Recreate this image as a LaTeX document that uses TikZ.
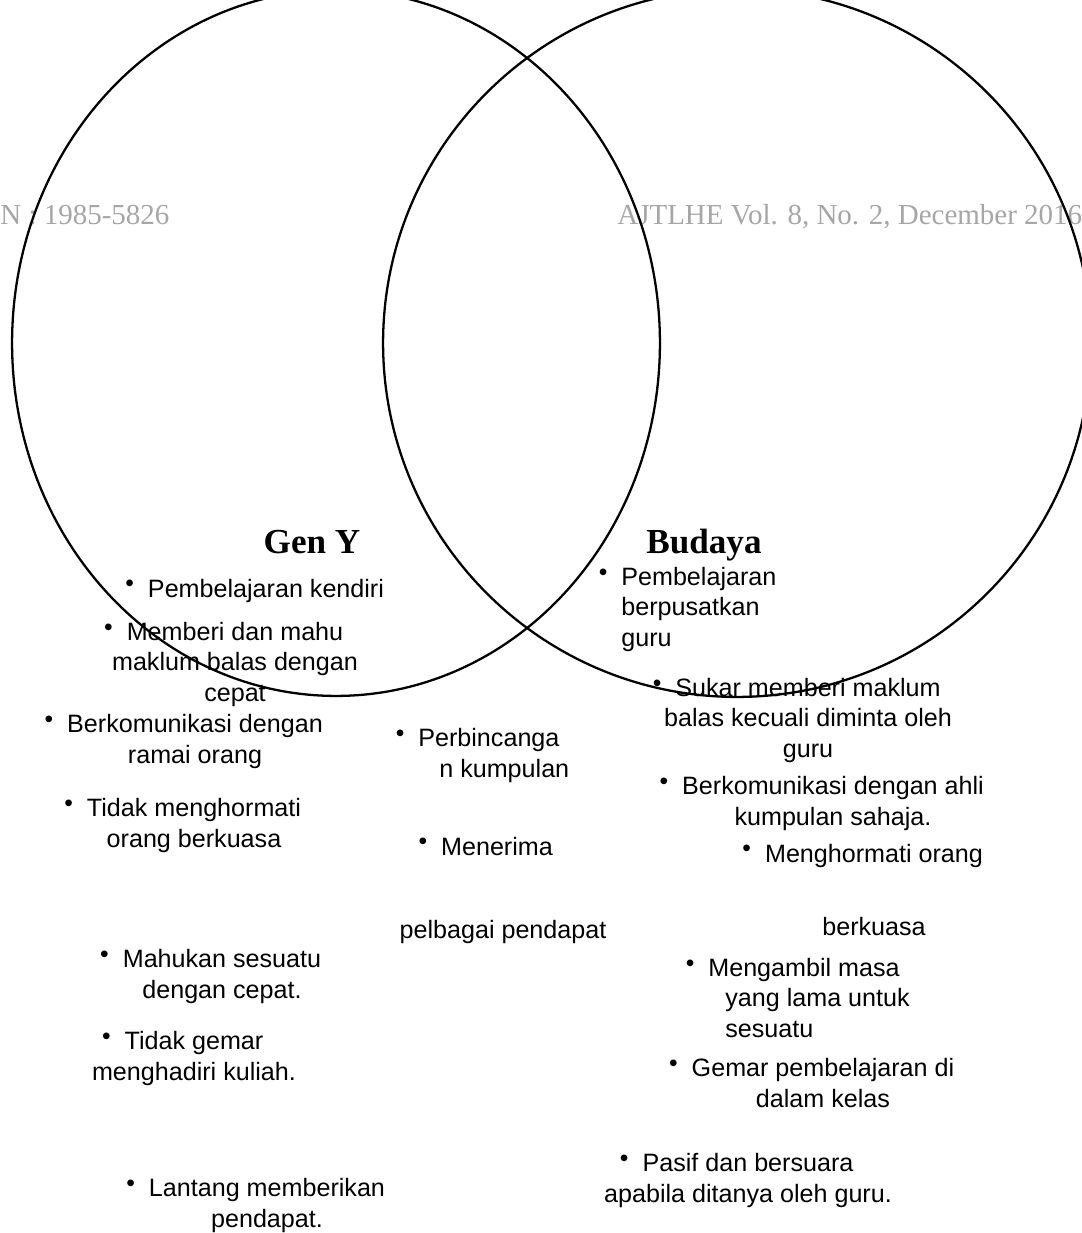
\documentclass[tikz,border=0pt]{standalone}
\usepackage{fontspec}
\setmainfont{Liberation Sans}
\newfontfamily\timesfont{Liberation Serif}
\definecolor{hdrgray}{HTML}{A6A6A6}
\newcommand\bul{\llap{\raisebox{2.9pt}{\fontsize{14}{14}\selectfont\textbullet}\hspace{0.28cm}}}

\begin{document}
\begin{tikzpicture}[x=0.02cm,y=-0.02cm,
	trait/.style={anchor=base,align=center,inner sep=0pt,font=\fontsize{14.3}{17.3}\selectfont},
	traitleft/.style={trait,anchor=base west,align=left},
	heading/.style={anchor=base,inner sep=0pt,font=\timesfont\bfseries\fontsize{20}{24}\selectfont},
	pagehead/.style={inner sep=0pt,text=hdrgray,font=\timesfont\fontsize{16.5}{19}\selectfont},
	vennset/.style={line width=1.3pt}]
\useasboundingbox (0,0) rectangle (1081,1233);
\node[pagehead,anchor=base west] (issn) at (0,224) {N : 1985-5826};
\node[pagehead,anchor=base west] (vol) at (617,224) {AJTLHE Vol. 8, No. 2, December 2016};
\draw[vennset] (336,343) ellipse [x radius=6.48cm, y radius=7.06cm];
\draw[vennset] (737,343) circle [radius=7.08cm];
\node[heading] (geny) at (312,553) {Gen Y};
\node[heading] (budaya) at (704,553) {Budaya};
\foreach \n/\x/\y/\t in {
	gy1/266/597/{Pembelajaran kendiri},
	gy2/235/701/{Memberi dan mahu\\maklum balas dengan\\cepat},
	gy3/195/763/{Berkomunikasi dengan\\ramai orang},
	gy4/194/847/{Tidak menghormati\\orang berkuasa},
	gy5/222/998/{Mahukan sesuatu\\dengan cepat.},
	gy6/194/1080/{Tidak gemar\\menghadiri kuliah.},
	gy7/267/1227/{Lantang memberikan\\pendapat.},
	sm2/497/855/{Menerima},
	bd2/808/757/{Sukar memberi maklum\\balas kecuali diminta oleh\\guru},
	bd3/833/825/{Berkomunikasi dengan ahli\\kumpulan sahaja.},
	bd4/874/862/{Menghormati orang},
	bd7/823/1107/{Gemar pembelajaran di\\dalam kelas},
	bd8/748/1202/{Pasif dan bersuara\\apabila ditanya oleh guru.}} {
	\node[trait] (\n) at (\x,\y) {\bul\t};
}
\node[traitleft] (sm1) at (418,777) {\bul Perbincanga\\\hspace*{0.42cm}n kumpulan};
\node[trait] (sm3) at (503,938) {pelbagai pendapat};
\node[traitleft] (bd1) at (621,646) {\bul Pembelajaran\\berpusatkan\\guru};
\node[trait] (bd5) at (874,935) {berkuasa};
\node[traitleft] (bd6) at (708,1037) {\bul Mengambil masa\\\hspace*{0.34cm}yang lama untuk\\\hspace*{0.34cm}sesuatu};
\end{tikzpicture}
\end{document}
